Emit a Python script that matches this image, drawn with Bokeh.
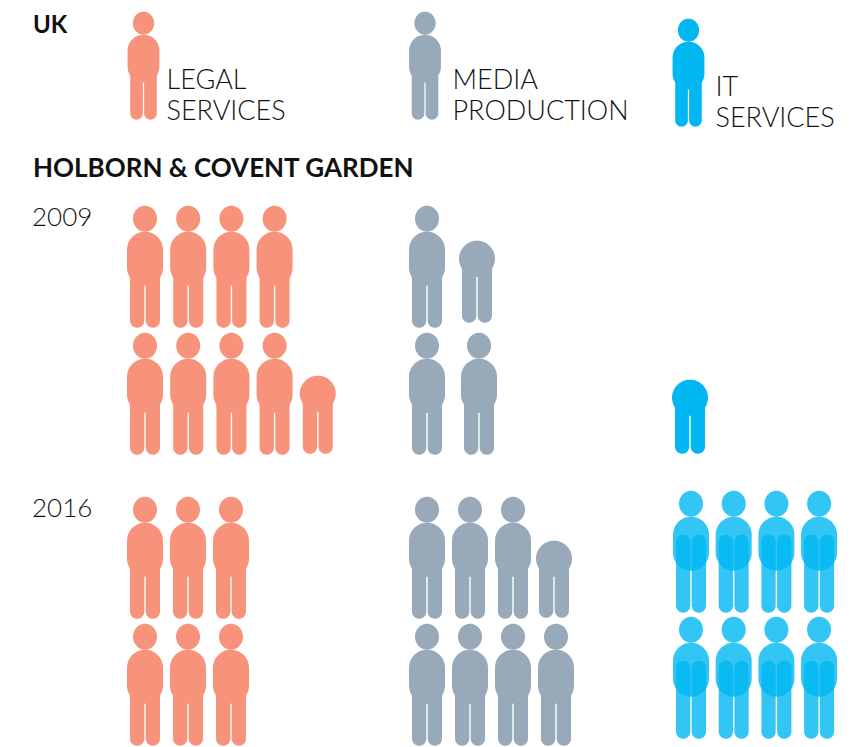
import numpy as np
from bokeh.plotting import figure
from bokeh.models import Range1d
from bokeh.embed import file_html
from bokeh.resources import INLINE
from bokeh.core.properties import value

# ---- data (one pictogram = one unit, .5 = the headless partial figure)
categories = ["LEGAL SERVICES", "MEDIA PRODUCTION", "IT SERVICES"]
years = ["2009", "2016"]
legal_values = [8.5, 6]
media_values = [3.5, 7.5]
it_values = [0.5, 8]
section_titles = ["UK", "HOLBORN & COVENT GARDEN"]

# ---- styles / layout
WIDTH, HEIGHT = 851, 747
LEGAL_C, MEDIA_C, IT_C = "#F8937B", "#98AAB9", "#00B7F1"
FONT = "Lato"
LIGHT = "Lato Light"
DX, DY = -0.5, -0.8   # nudge of all figures

def rrect(x0, x1, y0, y1, r):
    r = min(r, (x1 - x0) / 2, (y1 - y0) / 2)
    t = np.linspace(0, np.pi / 2, 14)
    xs = np.concatenate([x1 - r + r*np.sin(t), x1 - r + r*np.cos(t), x0 + r - r*np.sin(t), x0 + r - r*np.cos(t)])
    ys = np.concatenate([y0 + r - r*np.cos(t), y1 - r + r*np.sin(t), y1 - r + r*np.cos(t), y0 + r - r*np.sin(t)])
    return xs.tolist(), ys.tolist()

def ell(cx, cy, rx, ry):
    t = np.linspace(0, 2*np.pi, 48, endpoint=False)
    return (cx + rx*np.cos(t)).tolist(), (cy + ry*np.sin(t)).tolist()

def person(cx, top, s=1.0):
    cx += DX
    top += DY
    return [
        ell(cx, top + 13*s, 12*s, 13*s),
        rrect(cx - 18*s, cx + 18*s, top + 26*s, top + 80*s, 18*s),
        rrect(cx - 15*s, cx - 0.7*s, top + 44*s, top + 122*s, 7.1*s),
        rrect(cx + 0.7*s, cx + 15*s, top + 44*s, top + 122*s, 7.1*s),
    ]

def partial(cx, top, bottom):
    cx += DX
    top += DY
    bottom += DY
    return [
        ell(cx, top + 18, 18, 18),
        rrect(cx - 15, cx - 0.7, top + 16, bottom, 7.1),
        rrect(cx + 0.7, cx + 15, top + 16, bottom, 7.1),
    ]

p = figure(width=WIDTH, height=HEIGHT, output_backend="svg", toolbar_location=None,
           x_range=Range1d(0, WIDTH), y_range=Range1d(HEIGHT, 0),
           min_border=0, outline_line_color=None)
p.axis.visible = False
p.grid.visible = False
p.background_fill_color = "white"

def draw(parts, color, alpha=1.0):
    p.patches([q[0] for q in parts], [q[1] for q in parts], fill_color=color,
              fill_alpha=alpha, line_color=None)

# legend figures
for cx, top, c in [(143.5, 12, LEGAL_C), (425, 12, MEDIA_C), (688.5, 19, IT_C)]:
    draw(person(cx, top, 0.885), c)

# blocks: value, colour, alpha, x origin, step, row tops, full per row, partial slot
blocks = [
    (legal_values[0], LEGAL_C, 1.0, 145, 43.2, (206, 333), (4, 4), (1, 4, 0, 454, 376)),
    (media_values[0], MEDIA_C, 1.0, 427, 52, (206, 333), (1, 2), (0, 1, -2, 323, 241)),
    (it_values[0], IT_C, 1.0, 690, 43, (206, 333), (0, 0), (1, 0, 0, 454, 380)),
    (legal_values[1], LEGAL_C, 1.0, 145, 43, (497, 624), (3, 3), None),
    (media_values[1], MEDIA_C, 1.0, 427, 43, (497, 624), (3, 4), (0, 3, -2, 618, 541)),
    (it_values[1], IT_C, 0.8, 691, 42.7, (491, 617), (4, 4), None),
]
for val, c, a, x0, step, tops, per_row, part in blocks:
    parts = []
    remaining = int(np.floor(val))
    for r, n in enumerate(per_row):
        for i in range(min(n, remaining)):
            parts += person(x0 + i*step, tops[r])
        remaining -= n
    if val % 1 and part:
        r, col, dx, bottom, top = part
        parts += partial(x0 + col*step + dx, top, bottom)
    draw(parts, c, a)

def label(x, y, s, size, bold=False):
    p.text([x], [y], text=[s], text_font=value(FONT if bold else LIGHT), text_font_size=f"{size}px",
           text_font_style="bold" if bold else "normal", text_color="#111111",
           text_baseline="alphabetic", text_align="left")

label(32.5, 23, section_titles[0], 24, True)
label(32.5, 166, section_titles[1], 26, True)
label(31.5, 216, years[0], 26)
label(31.5, 507, years[1], 26)
for x, y, name in [(166, 78, categories[0]), (452, 78, categories[1]), (715, 85, categories[2])]:
    a, b = name.split(" ")
    label(x, y, a, 27)
    label(x, y + 31, b, 27)

open("out.html", "w").write(file_html(p, INLINE))
